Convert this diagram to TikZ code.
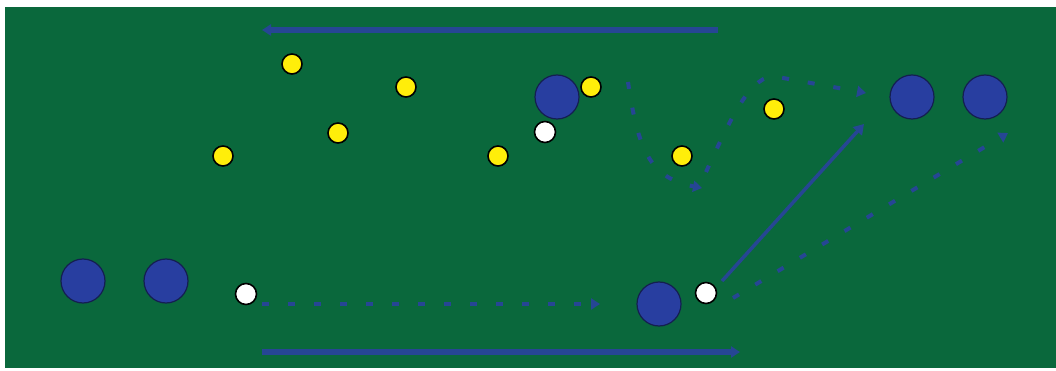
\documentclass[tikz,border=0pt]{standalone}
\usetikzlibrary{arrows.meta}
\definecolor{pitch}{RGB}{10,104,60}
\definecolor{pl}{RGB}{40,62,160}
\definecolor{ln}{RGB}{38,70,148}
\definecolor{yel}{RGB}{255,238,10}
\tikzset{
  bigp/.style={circle,fill=pl,draw=pl!50!black,line width=1.2pt,minimum size=44pt,inner sep=0pt},
  cone/.style={circle,fill=yel,draw=black,line width=1.6pt,minimum size=20pt,inner sep=0pt},
  ball/.style={circle,fill=white,draw=black,line width=1.6pt,minimum size=21pt,inner sep=0pt},
  run/.style={draw=ln,line width=5.5pt,-{Triangle[length=9pt,width=11pt]}},
  pass/.style={draw=ln,line width=3.5pt,-{Triangle[length=10pt,width=12pt]}},
  drib/.style={draw=ln,line width=4pt,dash pattern=on 7pt off 19pt,-{Triangle[length=9pt,width=11pt]}},
}
\begin{document}
\begin{tikzpicture}[x=1pt,y=-1pt]
\useasboundingbox (0,0) rectangle (1056,371);
\fill[white] (0,0) rectangle (1056,371);
\fill[pitch] (5,7) rectangle (1056,368);
% players
\node[bigp] (p1) at (83,281) {};
\node[bigp] (p2) at (166,281) {};
\node[bigp] (p3) at (557,97) {};
\node[bigp] (p4) at (659,304) {};
\node[bigp] (p5) at (912,97) {};
\node[bigp] (p6) at (985,97) {};
% cones
\node[cone] (c1) at (292,64) {};
\node[cone] (c2) at (406,87) {};
\node[cone] (c3) at (338,133) {};
\node[cone] (c4) at (223,156) {};
\node[cone] (c5) at (498,156) {};
\node[cone] (c6) at (591,87) {};
\node[cone] (c7) at (682,156) {};
\node[cone] (c8) at (774,109) {};
% balls
\node[ball] (b1) at (545,132) {};
\node[ball] (b2) at (246,294) {};
\node[ball] (b3) at (706,293) {};
% arrow ends
\coordinate (t1) at (718,30);
\coordinate (t2) at (262,30);
\coordinate (u1) at (262,352);
\coordinate (u2) at (740,352);
\coordinate (d1) at (262,304);
\coordinate (d2) at (600,304);
\coordinate (e1) at (722,281);
\coordinate (e2) at (864,124);
\coordinate (f1) at (733,298);
\coordinate (f2) at (1008,133);
\coordinate (g1) at (628,82);
\coordinate (g2) at (702,188);
\coordinate (h1) at (706,172);
\coordinate (h2) at (772,76);
\coordinate (h3) at (866,93);
% connectors
\draw[run] (t1) -- (t2);
\draw[run] (u1) -- (u2);
\draw[drib] (d1) -- (d2);
\draw[pass] (e1) -- (e2);
\draw[drib] (f1) -- (f2);
\draw[drib] (g1) .. controls (638,150) and (650,178) .. (g2);
\draw[drib] (h1) .. controls (730,120) and (748,80) .. (h2) -- (h3);
\end{tikzpicture}
\end{document}
